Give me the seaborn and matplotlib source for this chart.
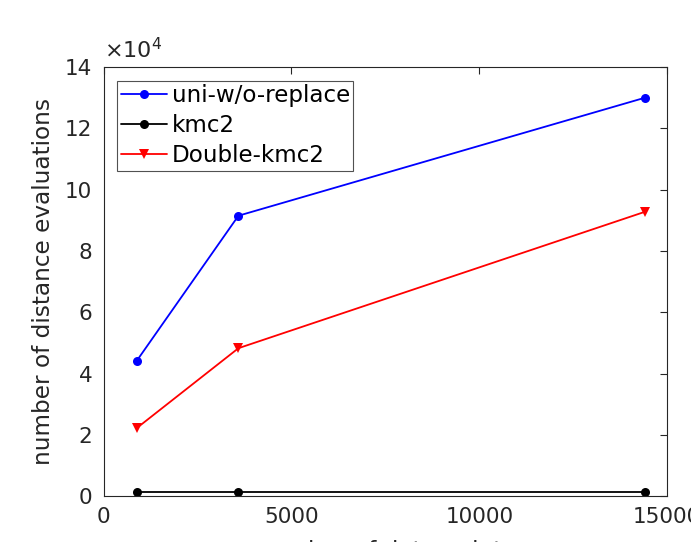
import numpy as np
import pandas as pd
import matplotlib
matplotlib.use("Agg")
import matplotlib.pyplot as plt
import seaborn as sns

sns.set_theme(style="white")
plt.rcParams['font.family'] = ['DejaVu Sans']

n_points = [880, 3590, 14410]
uni_wo_replace = [44100, 91500, 130000]
kmc2 = [1500, 1500, 1500]
double_kmc2 = [22200, 48300, 92800]
series_names = ["uni-w/o-replace", "kmc2", "Double-kmc2"]

df = pd.DataFrame({
    "n": n_points * 3,
    "evals": uni_wo_replace + kmc2 + double_kmc2,
    "method": [series_names[0]] * 3 + [series_names[1]] * 3 + [series_names[2]] * 3,
})

fig = plt.figure(figsize=(6.91, 5.42), dpi=100)
ax = fig.add_axes([103.5 / 691, 1 - 496.3 / 542, (667.3 - 103.5) / 691, (496.3 - 67) / 542])

palette = {"uni-w/o-replace": "#0000ff", "kmc2": "#000000", "Double-kmc2": "#ff0000"}
markers = {"uni-w/o-replace": "o", "kmc2": "o", "Double-kmc2": "v"}
sns.lineplot(data=df, x="n", y="evals", hue="method", style="method",
             palette=palette, markers=markers, dashes=False, ax=ax,
             linewidth=1.3, markersize=6.5, markeredgewidth=0)

ax.set_xlim(0, 15000)
ax.set_ylim(0, 140000)
ax.set_xticks([0, 5000, 10000, 15000])
ax.set_yticks(np.arange(0, 140001, 20000))
ax.set_yticklabels([str(v) for v in range(0, 15, 2)])
ax.set_xticklabels(["0", "5000", "10000", "15000"])
tc = "#262626"
ax.tick_params(direction="in", top=True, right=True, length=5, width=0.8,
               colors=tc, labelsize=15.5, pad=8, labelcolor=tc)
for s in ax.spines.values():
    s.set_color(tc)
    s.set_linewidth(0.8)
ax.set_ylabel("number of distance evaluations", fontsize=16.7, color=tc, labelpad=7)
ax.set_xlabel("number of data points", fontsize=16.7, color=tc, labelpad=9)
ax.text(0.0, 1.012, r"$\times10^4$", transform=ax.transAxes, fontsize=16,
        color=tc, ha="left", va="bottom")

leg = ax.legend(loc="upper left", fontsize=16.6, frameon=True, fancybox=False,
                edgecolor=tc, borderpad=0.15, handlelength=2.0, handletextpad=0.2,
                labelspacing=0.3, borderaxespad=0.6)
leg.get_frame().set_linewidth(0.8)
for t in leg.get_texts():
    t.set_color("#000000")

fig.savefig("out.png", dpi=100)
